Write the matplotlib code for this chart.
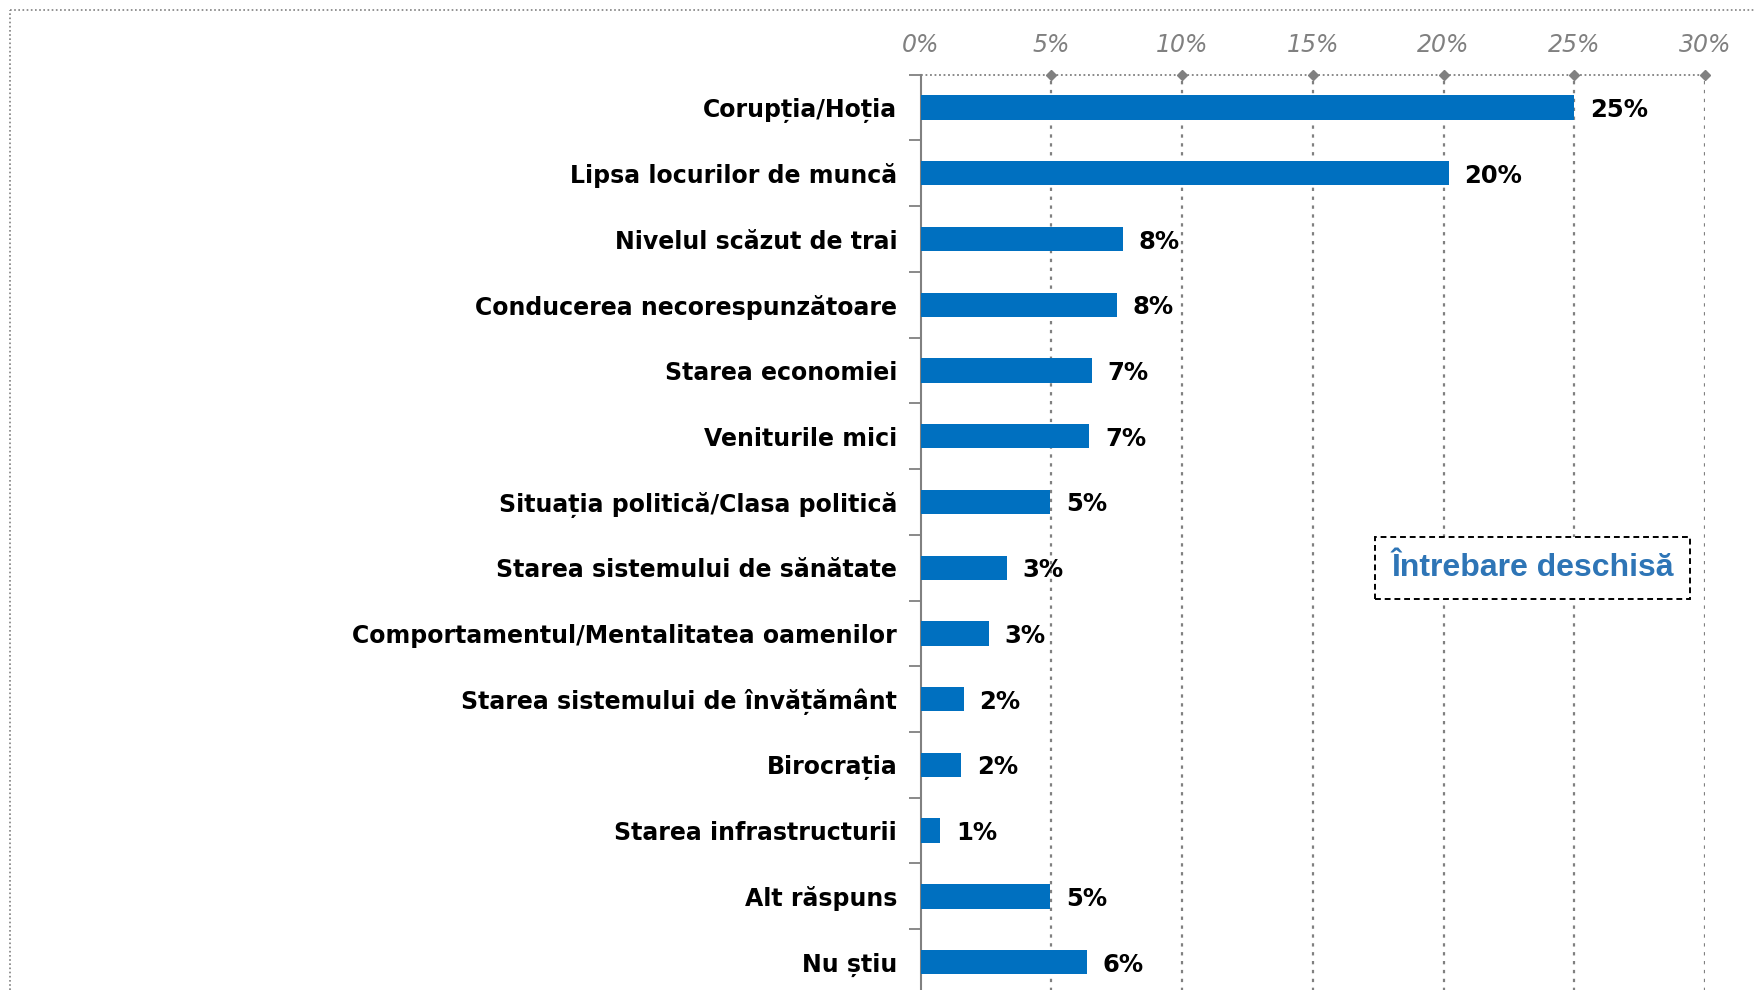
import matplotlib
matplotlib.use("Agg")
import matplotlib.pyplot as plt
from matplotlib.lines import Line2D
import numpy as np

categories = [
    "Corupția/Hoția",
    "Lipsa locurilor de muncă",
    "Nivelul scăzut de trai",
    "Conducerea necorespunzătoare",
    "Starea economiei",
    "Veniturile mici",
    "Situația politică/Clasa politică",
    "Starea sistemului de sănătate",
    "Comportamentul/Mentalitatea oamenilor",
    "Starea sistemului de învățământ",
    "Birocrația",
    "Starea infrastructurii",
    "Alt răspuns",
    "Nu știu",
]
values = [25.0, 20.2, 7.75, 7.5, 6.55, 6.45, 4.95, 3.3, 2.6, 1.65, 1.55, 0.75, 4.95, 6.35]
value_labels = ["25%", "20%", "8%", "8%", "7%", "7%", "5%", "3%", "3%", "2%", "2%", "1%", "5%", "6%"]
x_ticks = [0, 5, 10, 15, 20, 25, 30]
x_tick_labels = ["0%", "5%", "10%", "15%", "20%", "25%", "30%"]
note_text = "Întrebare deschisă"

BAR_COLOR = "#0070C0"
GREY = "#808080"

fig = plt.figure(figsize=(17.54, 9.90), dpi=100)
ax = fig.add_axes([0.5249, -0.005, 0.4472, 0.9295])

y = np.arange(len(categories))
ax.barh(y, values, height=0.37, color=BAR_COLOR, zorder=3)
ax.set_ylim(len(categories) - 0.5, -0.5)
ax.set_xlim(0, 30)

# value labels
for yi, v, lab in zip(y, values, value_labels):
    ax.text(v + 0.6, yi, lab, va="center_baseline", ha="left", fontsize=17.5,
            fontweight="bold", color="black", family="DejaVu Sans")

# category labels (as text so ticks can be at boundaries)
ax.set_yticks(np.arange(len(categories) + 1) - 0.5)
ax.set_yticklabels([])
ax.tick_params(axis="y", direction="out", length=9, width=1.3, color=GREY)
for yi, c in zip(y, categories):
    ax.text(-0.9, yi, c, va="center_baseline", ha="right", fontsize=17,
            fontweight="bold", color="black", family="DejaVu Sans",
            transform=ax.transData, clip_on=False)

# x axis on top
ax.xaxis.tick_top()
ax.set_xticks(x_ticks)
ax.set_xticklabels(x_tick_labels, fontsize=17, style="italic", color=GREY,
                   family="DejaVu Sans")
ax.tick_params(axis="x", length=0, pad=13)

# grid
for xt in x_ticks[1:]:
    ax.axvline(xt, color=GREY, lw=1.6, ls=(0, (1.5, 2.5)), zorder=1)

# spines
for s in ["right", "bottom", "top"]:
    ax.spines[s].set_visible(False)
ax.spines["left"].set_color(GREY)
ax.spines["left"].set_linewidth(1.5)

# top dotted axis line with diamond markers
ax.plot([0, 30], [1, 1], transform=ax.get_xaxis_transform(), color=GREY,
        lw=1.3, ls=(0, (1, 1.5)), clip_on=False, zorder=4)
ax.plot(x_ticks[1:], [1] * (len(x_ticks) - 1), transform=ax.get_xaxis_transform(),
        ls="none", marker="D", markersize=5, color=GREY, clip_on=False, zorder=5)

# note box
ax.text(23.4, 7.0, note_text, ha="center", va="center", fontsize=23,
        fontweight="bold", color="#2E75B6", family="Liberation Sans",
        bbox=dict(boxstyle="square,pad=0.5", fc="white", ec="black",
                  lw=1.4, ls=(0, (3, 2))), zorder=6)

# outer dotted frame
fig.add_artist(Line2D([10 / 1754, 1.0], [1 - 10 / 990, 1 - 10 / 990],
                      transform=fig.transFigure, color=GREY, lw=1.2,
                      ls=(0, (1, 1.5))))
fig.add_artist(Line2D([10 / 1754, 10 / 1754], [0, 1 - 10 / 990],
                      transform=fig.transFigure, color=GREY, lw=1.2,
                      ls=(0, (1, 1.5))))

fig.savefig("out.png", dpi=100)
